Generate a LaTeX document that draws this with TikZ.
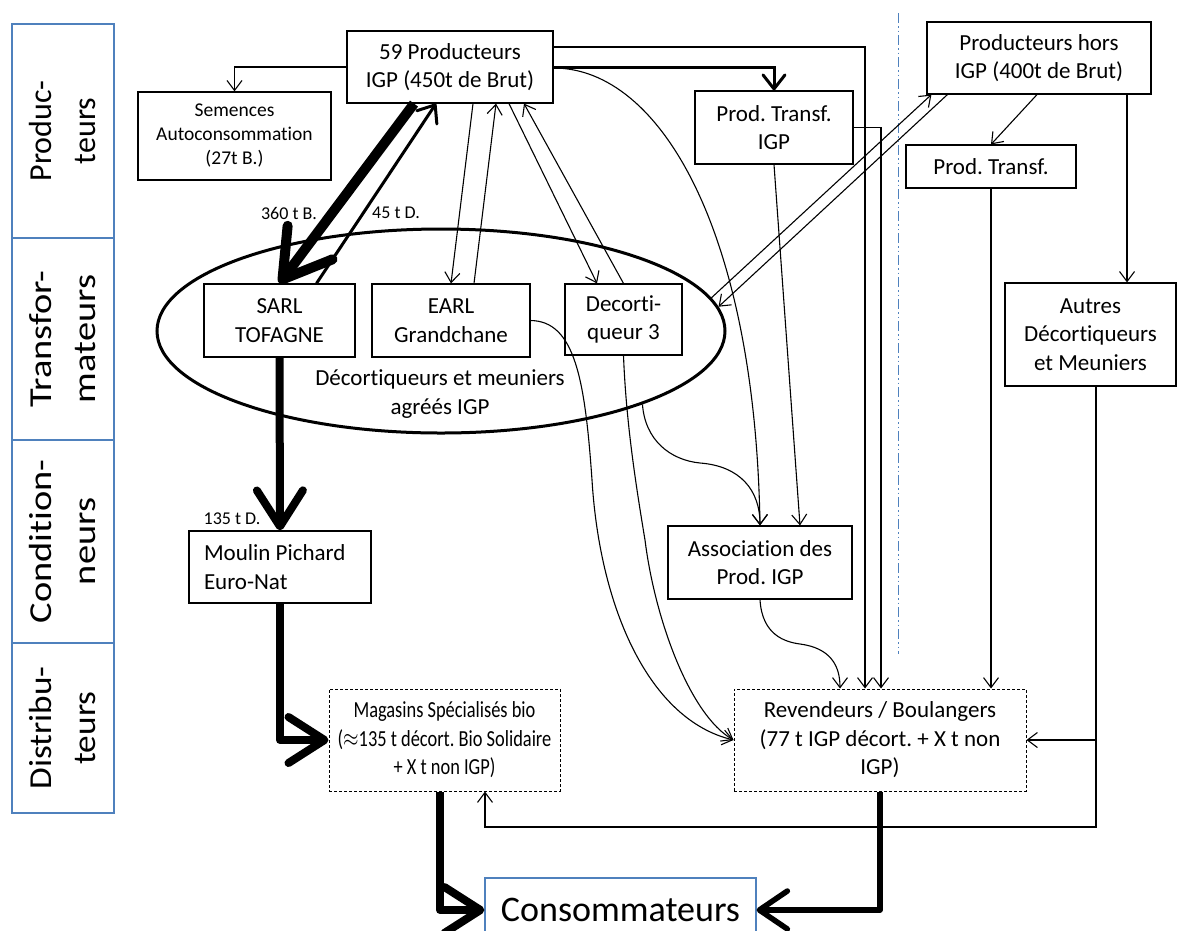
\documentclass[tikz,border=0pt]{standalone}
\usepackage{fontspec}
\usepackage{graphicx}
\setmainfont{Carlito}[Ligatures=NoCommon]
\usetikzlibrary{arrows.meta,shapes.geometric,calc}
\definecolor{lblue}{RGB}{79,129,189}
\newcommand\fmain{\fontsize{23}{28.5}\selectfont}
\newcommand\fsmall{\fontsize{19.5}{24}\selectfont}
\newcommand\flab{\fontsize{18}{20}\selectfont}
\newcommand\fside{\fontsize{32}{44}\selectfont}
\newcommand\fcons{\fontsize{36}{40}\selectfont}
\newcommand\cnd[1]{\scalebox{0.8}[1]{#1}}
\frenchspacing
\begin{document}
\begin{tikzpicture}[x=1pt,y=-1pt,
 box/.style={draw, line width=1.2pt, inner sep=0pt, align=center, font=\fmain},
 dbox/.style={box, dash pattern=on 3pt off 2pt, line width=1pt},
 side/.style={draw=lblue, line width=1.5pt, rotate=90, inner sep=0pt, align=center, font=\fside},
 thinarr/.style={line width=1.1pt, -{Straight Barb[length=10pt,width=15pt]}},
 medarr/.style={line width=3pt, -{Straight Barb[length=15pt,width=24pt,round]}},
 bigarr/.style={line width=8pt, line join=round, -{Straight Barb[length=36pt,width=46pt,round]}},
 lab/.style={font=\flab, inner sep=0pt},
]
\useasboundingbox (0,0) rectangle (1178,930);

% left column
\node[side, minimum width=214, minimum height=102] (sP) at (63,131) {Produc-\\teurs};
\node[side, minimum width=202, minimum height=102] (sT) at (63,339) {\scalebox{1.2}[1]{Transfor-}\\\scalebox{1.2}[1]{mateurs}};
\node[side, minimum width=203, minimum height=102] (sC) at (63,541.5) {\scalebox{1.2}[1]{Condition-}\\\scalebox{1.2}[1]{neurs}};
\node[side, minimum width=170, minimum height=102] (sD) at (63,728) {\scalebox{1.1}[1]{Distribu-}\\\scalebox{1.1}[1]{teurs}};

% ellipse group
\node[draw, ellipse, line width=3pt, minimum width=568, minimum height=204, inner sep=0pt] (grp) at (441,331) {};
\node[font=\fmain, align=center, inner sep=0pt] (grptxt) at (440,394) {Décortiqueurs et meuniers\\agréés IGP};

% boxes
\node[box, minimum width=206, minimum height=72] (prod) at (450,67) {59 Producteurs\\IGP (450t de Brut)};
\node[box, font=\fsmall, minimum width=193, minimum height=88] (sem) at (234.5,136) {Semences\\Autoconsommation\\(27t B.)};
\node[box, minimum width=151, minimum height=73] (sarl) at (279.5,320.5) {SARL\\TOFAGNE};
\node[box, minimum width=158, minimum height=73] (earl) at (451,320.5) {EARL\\Grandchane};
\node[box, minimum width=117, minimum height=71] (dec3) at (623.5,319.5) {Decorti-\\queur 3};
\node[box, minimum width=158, minimum height=73] (pti) at (774,127.5) {Prod. Transf.\\IGP};
\node[box, minimum width=224, minimum height=72] (phors) at (1039,58) {Producteurs hors\\IGP (400t de Brut)};
\node[box, minimum width=170, minimum height=43] (pt) at (991,166.5) {Prod. Transf.};
\node[box, minimum width=171, minimum height=103] (autres) at (1090.5,334.5) {Autres\\Décortiqueurs\\et Meuniers};
\node[box, minimum width=184, minimum height=73] (assoc) at (760,562.5) {Association des\\Prod. IGP};
\node[box, minimum width=182, minimum height=72, text width=152pt, align=flush left] (moulin) at (280,567) {Moulin Pichard\\Euro-Nat};
\node[dbox, minimum width=231, minimum height=102] (mag) at (444.5,740) {\cnd{Magasins Spécialisés bio}\\\cnd{($\approx$135 t décort. Bio Solidaire}\\\cnd{+ X t non IGP)}};
\node[dbox, minimum width=292, minimum height=102] (rev) at (880,740) {Revendeurs / Boulangers\\(77 t IGP décort. + X t non\\IGP)};
\node[draw=lblue, line width=1.2pt, minimum width=271, minimum height=64, inner sep=0pt, font=\fcons] (cons) at (620.5,910) {Consommateurs};

% separator
\draw[lblue, line width=1pt, dash pattern=on 10pt off 3pt on 1.5pt off 3pt on 1.5pt off 3pt] (898,13) -- (898,654);

% connectors
\draw[thinarr] (prod.west) -| (sem.north);
\draw[line width=10pt, -{Straight Barb[length=46pt,width=56pt,round]}] ($(prod.south)+(-36,0)$) -- (sarl.north);
\node[lab] (l360) at (289,213) {360 t B.};
\draw[medarr] ($(sarl.north)+(37,0)$) -- ($(prod.south)+(-14,0)$);
\node[lab] (l45) at (396,213) {45 t D.};
\draw[thinarr] ($(prod.south)+(23,0)$) -- (earl.north);
\draw[thinarr] ($(earl.north)+(23,0)$) -- ($(prod.south)+(46,0)$);
\draw[thinarr] ($(prod.south)+(59,0)$) -- ($(dec3.north)+(-26.5,0)$);
\draw[thinarr] (dec3.north) -- ($(prod.south)+(74,0)$);
\draw[line width=3pt, -{Straight Barb[length=14pt,width=22pt,round]}] (prod.east) -| (pti.north);
\draw[thinarr] ($(prod.east)+(0,-20)$) -| ($(rev.north)+(-15,0)$);
\draw[thinarr] (pti.east) -| ($(rev.north)+(1,0)$);
\draw[thinarr] (pti.south) -- ($(assoc.north)+(40,0)$);
\draw[thinarr] ($(prod.east)+(0,1)$) .. controls (660,68) and (755,230) .. (assoc.north);
\draw[thinarr] (grp.7) -- ($(phors.south west)+(5,0)$);
\draw[thinarr] ($(phors.south west)+(21,0)$) -- (grp.5);
\draw[thinarr] ($(phors.south)+(-2,0)$) -- (pt.north);
\coordinate (ph1) at ($(phors.south)+(88,0)$);
\draw[thinarr] (ph1) -- (ph1 |- autres.north);
\draw[thinarr] (pt.south) -- (pt.south |- rev.north);
\coordinate (au1) at ($(autres.south)+(5.5,0)$);
\coordinate (low) at (0,827);
\draw[thinarr] (au1) -- (au1 |- low) -| ($(mag.south)+(40.5,0)$);
\draw[thinarr] (au1 |- rev.east) -- (rev.east);
\draw[thinarr] (earl.east) .. controls (575,321) and (585,380) .. (592,480) .. controls (600,610) and (650,720) .. (rev.west);
\draw[thinarr] (dec3.south) .. controls (626,420) and (635,480) .. (645,540) .. controls (655,620) and (690,715) .. (rev.west);
\draw[thinarr] (grp.340) .. controls (645,440) and (670,460) .. (700,463) .. controls (740,466) and (760,490) .. (assoc.north);
\draw[thinarr] (assoc.south) .. controls (762,635) and (785,642) .. (800,644) .. controls (830,648) and (840,665) .. ($(rev.north)+(-40,0)$);

% thick flows
\draw[bigarr] (sarl.south) -- (moulin.north);
\node[lab] (l135) at (232,519) {135 t D.};
\draw[bigarr] (moulin.south) |- (mag.west);
\draw[bigarr] ($(mag.south)+(-4.5,0)$) |- (cons.west);
\draw[line width=5.5pt, line join=round, -{Straight Barb[length=28pt,width=38pt,round]}] (rev.south) |- (cons.east);
\end{tikzpicture}
\end{document}
